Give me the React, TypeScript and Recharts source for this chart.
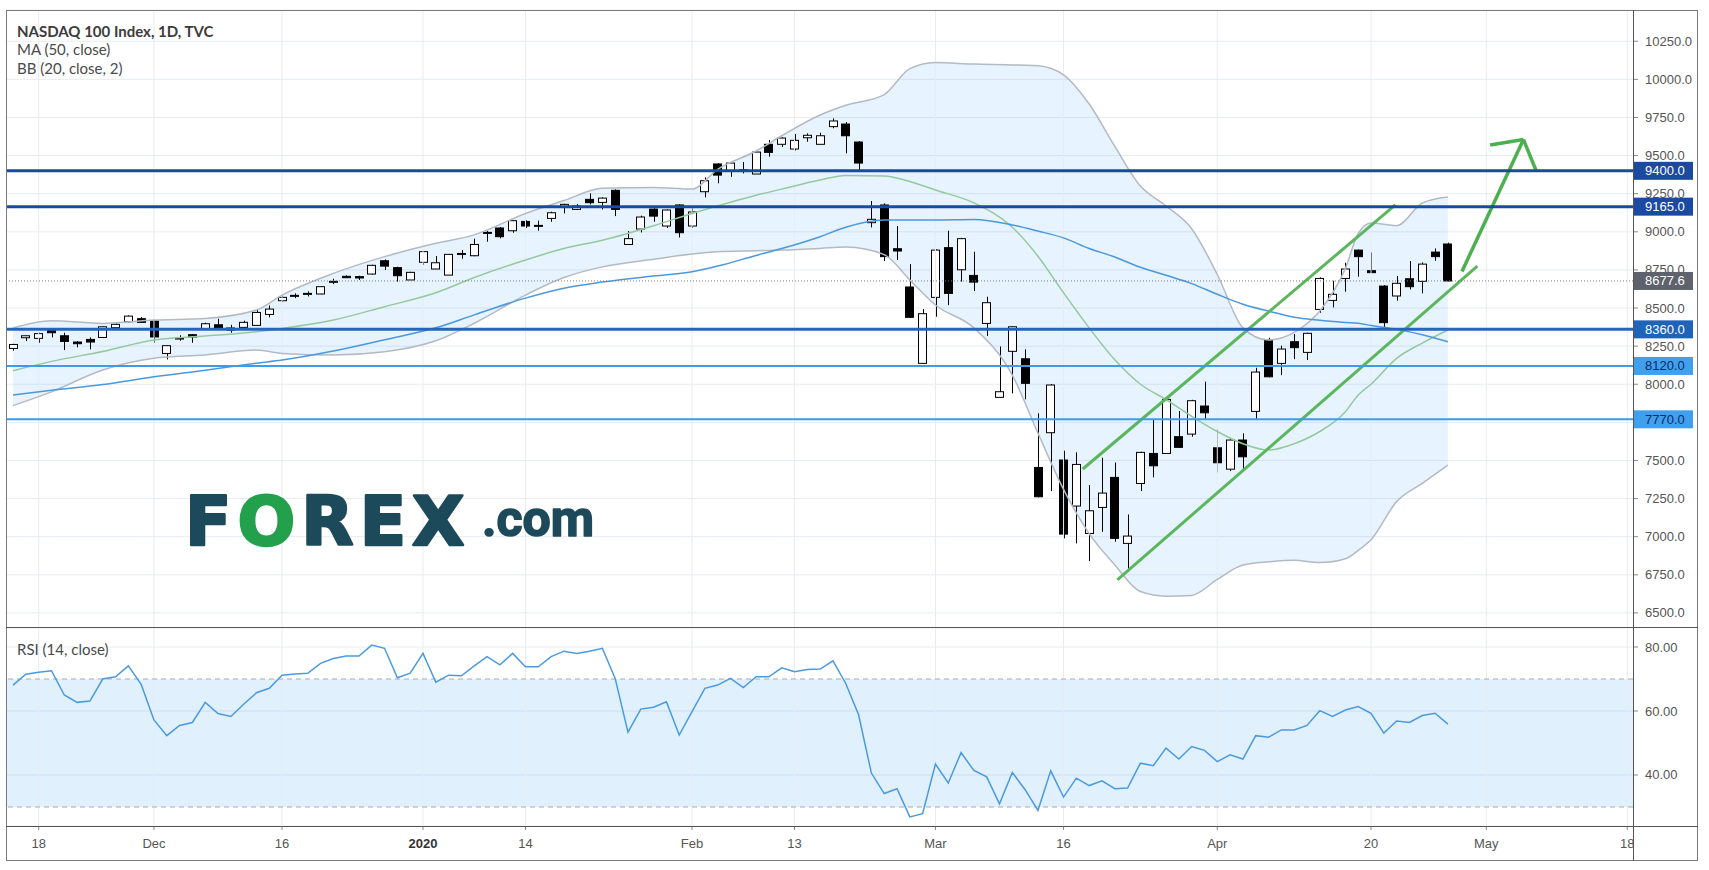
import React from 'react';
import { ComposedChart, Bar, Line, Area, XAxis, YAxis, CartesianGrid, ReferenceLine, ReferenceArea } from 'recharts';

// ---------- categories (trading days) ----------
const dates = [
  "2019-11-14","2019-11-15","2019-11-18","2019-11-19","2019-11-20","2019-11-21","2019-11-22","2019-11-25","2019-11-26","2019-11-27",
  "2019-11-29","2019-12-02","2019-12-03","2019-12-04","2019-12-05","2019-12-06","2019-12-09","2019-12-10","2019-12-11","2019-12-12",
  "2019-12-13","2019-12-16","2019-12-17","2019-12-18","2019-12-19","2019-12-20","2019-12-23","2019-12-24","2019-12-26","2019-12-27",
  "2019-12-30","2019-12-31","2020-01-02","2020-01-03","2020-01-06","2020-01-07","2020-01-08","2020-01-09","2020-01-10","2020-01-13",
  "2020-01-14","2020-01-15","2020-01-16","2020-01-17","2020-01-21","2020-01-22","2020-01-23","2020-01-24","2020-01-27","2020-01-28",
  "2020-01-29","2020-01-30","2020-01-31","2020-02-03","2020-02-04","2020-02-05","2020-02-06","2020-02-07","2020-02-10","2020-02-11",
  "2020-02-12","2020-02-13","2020-02-14","2020-02-18","2020-02-19","2020-02-20","2020-02-21","2020-02-24","2020-02-25","2020-02-26",
  "2020-02-27","2020-02-28","2020-03-02","2020-03-03","2020-03-04","2020-03-05","2020-03-06","2020-03-09","2020-03-10","2020-03-11",
  "2020-03-12","2020-03-13","2020-03-16","2020-03-17","2020-03-18","2020-03-19","2020-03-20","2020-03-23","2020-03-24","2020-03-25",
  "2020-03-26","2020-03-27","2020-03-30","2020-03-31","2020-04-01","2020-04-02","2020-04-03","2020-04-06","2020-04-07","2020-04-08",
  "2020-04-09","2020-04-13","2020-04-14","2020-04-15","2020-04-16","2020-04-17","2020-04-20","2020-04-21","2020-04-22","2020-04-23",
  "2020-04-24","2020-04-27","2020-04-28","2020-04-29","2020-04-30","2020-05-01","2020-05-04","2020-05-05","2020-05-06","2020-05-07",
  "2020-05-08","2020-05-11","2020-05-12","2020-05-13","2020-05-14","2020-05-15","2020-05-18"
];

// ---------- OHLC ----------
const openP = [
  8235,8305,8301,8362,8318,8277,8294,8307,8371,8410,
  8430,8415,8202,8299,8325,8364,8390,8369,8373,8386,
  8458,8548,8579,8590,8592,8670,8708,8706,8723,8810,
  8765,8684,8800,8756,8716,8854,8843,8992,9025,9007,
  9068,9038,9088,9165,9147,9213,9193,9272,8917,9018,
  9149,9038,9176,9038,9263,9445,9401,9403,9379,9574,
  9574,9543,9617,9574,9690,9707,9589,9060,9176,8889,
  8638,8137,8570,8896,8751,8714,8399,7914,8216,8167,
  7454,7682,7503,7201,7021,7192,7389,6956,7349,7546,
  7546,7656,7673,7857,7583,7443,7634,7822,8290,8137,
  8279,8209,8491,8550,8694,8880,8745,8644,8579,8692,
  8675,8867,8920
];
const highP = [
  8265,8320,8338,8364,8338,8283,8307,8377,8399,8452,
  8441,8421,8257,8321,8329,8404,8430,8390,8417,8491,
  8517,8583,8596,8609,8644,8692,8714,8712,8784,8819,
  8771,8738,8874,8841,8854,8880,8955,9007,9031,9077,
  9075,9073,9132,9184,9182,9252,9226,9278,9005,9106,
  9154,9147,9180,9154,9357,9450,9455,9458,9527,9602,
  9619,9641,9646,9650,9744,9720,9594,9202,9187,9038,
  8788,8493,8885,9007,8960,8869,8574,8248,8380,8229,
  7809,8001,7564,7553,7338,7518,7487,7146,7557,7774,
  7907,7824,7898,8017,7706,7638,7678,8108,8305,8253,
  8329,8338,8701,8679,8797,8884,8865,8650,8710,8808,
  8799,8891,8929
];
const lowP = [
  8220,8283,8272,8307,8224,8242,8229,8305,8366,8404,
  8404,8272,8163,8286,8272,8362,8358,8338,8360,8382,
  8439,8541,8565,8576,8590,8657,8697,8684,8719,8749,
  8673,8684,8784,8756,8716,8823,8840,8935,8957,8994,
  9025,9007,9066,9121,9147,9180,9147,9103,8915,8996,
  9066,9025,8963,9025,9226,9318,9361,9383,9379,9493,
  9556,9534,9591,9574,9679,9515,9405,9029,8808,8815,
  8434,8137,8443,8519,8673,8611,8316,7912,7940,7901,
  7258,7299,6989,6956,6840,7032,6967,6770,7299,7389,
  7546,7584,7656,7765,7422,7430,7437,7765,8045,8060,
  8165,8159,8469,8504,8607,8705,8730,8355,8548,8622,
  8596,8810,8675
];
const closeP = [
  8261,8318,8332,8338,8281,8266,8277,8377,8393,8447,
  8406,8310,8253,8303,8310,8397,8360,8355,8406,8471,
  8493,8570,8583,8596,8640,8675,8699,8697,8780,8775,
  8712,8734,8870,8797,8852,8858,8917,8996,8968,9073,
  9038,9042,9125,9180,9169,9191,9221,9147,8955,9097,
  9103,9143,8994,9130,9335,9372,9451,9407,9523,9521,
  9615,9600,9633,9630,9727,9630,9451,9082,8837,8874,
  8439,8463,8880,8596,8955,8670,8535,7951,8377,8006,
  7262,7995,7017,7474,7170,7286,6989,7004,7553,7465,
  7901,7586,7892,7813,7485,7634,7524,8080,8049,8231,
  8240,8334,8694,8590,8756,8837,8732,8404,8662,8640,
  8788,8837,8677.6
];

// ---------- RSI (14, close) ----------
const rsiVals = [
  68.1,71.5,72.1,72.6,65.0,62.7,63.1,70.0,70.7,74.1,
  68.3,57.2,52.3,55.5,56.4,62.7,59.2,58.3,62.1,65.7,
  67.1,71.2,71.6,71.8,74.9,76.4,77.2,77.2,80.6,79.6,
  70.4,71.8,78.0,69.0,71.2,71.0,74.1,77.0,74.4,78.0,
  73.8,73.8,77.0,78.7,78.0,78.7,79.6,70.2,53.4,60.6,
  61.2,62.9,52.5,59.8,67.1,68.1,70.2,67.3,70.7,70.7,
  73.5,72.3,73.0,73.1,75.7,68.6,58.8,40.6,34.2,35.7,
  26.9,27.9,43.4,37.5,47.0,41.4,39.4,31.0,40.8,35.4,
  28.9,41.3,33.1,39.0,36.7,38.2,35.7,35.9,43.7,42.9,
  48.4,45.0,48.9,47.7,44.2,46.3,45.0,52.3,51.8,54.1,
  54.1,55.5,60.1,58.3,60.3,61.4,59.3,53.1,56.9,56.4,
  58.6,59.3,55.9
];

// ---------- Bollinger (20, 2) and MA(50), read at these bars ----------
const bandIdx = [0,3,7,11,15,19,21,25,29,33,36,40,43,46,50,53,55,58,60,63,65,68,70,72,75,78,80,82,84,86,88,90,92,94,96,98,100,102,104,105,106,108,110,112];
const bbUpper = [8369,8417,8399,8421,8432,8487,8585,8727,8837,8925,8980,9120,9205,9285,9291,9280,9410,9530,9630,9766,9830,9900,10070,10110,10100,10095,10090,10030,9838,9560,9300,9170,9020,8720,8370,8290,8340,8480,8760,8990,9058,9040,9189,9228];
const bbBasis = [8089,8150,8215,8290,8316,8345,8366,8421,8509,8600,8700,8815,8890,8945,9040,9120,9170,9240,9280,9340,9370,9366,9330,9274,9190,9030,8840,8600,8370,8160,8000,7900,7790,7690,7610,7568,7610,7690,7820,7930,8000,8170,8270,8356];
const bbLower = [7860,7950,8093,8170,8192,8224,8202,8192,8213,8285,8400,8585,8700,8770,8820,8854,8869,8876,8880,8891,8900,8850,8684,8520,8370,8060,7680,7310,7020,6815,6640,6610,6615,6720,6814,6835,6845,6830,6855,6910,6980,7230,7350,7470];
const ma50 = [7929,7960,7998,8049,8092,8138,8159,8218,8292,8370,8455,8565,8630,8670,8710,8738,8775,8845,8890,8968,9030,9077,9077,9077,9080,9045,9005,8960,8890,8835,8767,8715,8660,8590,8525,8480,8440,8420,8405,8400,8385,8360,8325,8279];

// ---------- axes ----------
const priceTicks = [6500,6750,7000,7250,7500,7750,8000,8250,8500,8750,9000,9250,9500,9750,10000,10250];
const rsiTicks = [40, 60, 80];
const timeTickIdx = [2, 11, 21, 32, 40, 53, 61, 72, 82, 94, 106, 115, 126];
const timeTickLabels = ["18","Dec","16","2020","14","Feb","13","Mar","16","Apr","20","May","18"];

// ---------- drawings ----------
const levels = [9400, 9165, 8360, 8120, 7770];
const lastPrice = 8677.6;
const channelUpper = [{ x: 83.5, y: 7444 }, { x: 107.9, y: 9176 }];
const channelLower = [{ x: 86.2, y: 6716 }, { x: 114.3, y: 8775 }];
const arrowShaft = [{ x: 113.1, y: 8740 }, { x: 117.9, y: 9605 }];
const arrowHeadLeft = [{ x: 115.3, y: 9569 }, { x: 117.9, y: 9605 }];
const arrowHeadRight = [{ x: 117.9, y: 9605 }, { x: 118.9, y: 9399 }];

// ---------- styles ----------
const X_DOMAIN: [number, number] = [-0.55, 126.45];
const PRICE_DOMAIN: [number, number] = [6401, 10455];
const RSI_DOMAIN: [number, number] = [24.06, 85.94];
const levelStyles = [
  { line: '#1a4a9e', w: 3, bg: '#1b4aa0', fg: '#ffffff' },
  { line: '#1a4a9e', w: 3, bg: '#1b4aa0', fg: '#ffffff' },
  { line: '#2466bd', w: 3, bg: '#1f64bb', fg: '#ffffff' },
  { line: '#3d9be9', w: 2, bg: '#40a0ee', fg: '#0d2b5e' },
  { line: '#3d9be9', w: 2, bg: '#40a0ee', fg: '#0d2b5e' },
];
const GRID = '#e8ecf1';
const AXIS_FONT = '"Liberation Sans", Arial, sans-serif';

const mainData = openP.map((o, i) => {
  const k = bandIdx.indexOf(i);
  return {
    i,
    d: dates[i],
    o,
    h: highP[i],
    l: lowP[i],
    c: closeP[i],
    bu: k >= 0 ? bbUpper[k] : null,
    bm: k >= 0 ? bbBasis[k] : null,
    bl: k >= 0 ? bbLower[k] : null,
    ma: k >= 0 ? ma50[k] : null,
  };
});
const rsiData = rsiVals.map((r, i) => ({ i, d: dates[i], r }));

const Candle = (props: any) => {
  const { x, y, width, height, payload } = props;
  if (!payload || payload.o == null || x == null || y == null) return null;
  const { o, c, h, l } = payload;
  const top = Math.min(y, y + height);
  const bot = Math.max(y, y + height);
  const ppu = h > l ? (bot - top) / (h - l) : 0;
  const yOf = (v: number) => top + (h - v) * ppu;
  const cx = Math.round(x + width / 2) + 0.5;
  const bTop = yOf(Math.max(o, c));
  const bBot = yOf(Math.min(o, c));
  const up = c >= o;
  const bx = Math.round(x) + 0.5;
  const bw = Math.round(width) - 1;
  return (
    <g>
      <line x1={cx} x2={cx} y1={top} y2={bot} stroke="#000" strokeWidth={1} />
      <rect x={bx} y={bTop} width={bw} height={Math.max(1, bBot - bTop)} fill={up ? '#ffffff' : '#000000'} stroke="#000" strokeWidth={1} />
    </g>
  );
};

const PriceTick = (props: any) => {
  const { x, y, payload } = props;
  return (
    <text x={x} y={y} dominantBaseline="central" textAnchor="start" fontSize={13} fill="#555" fontFamily={AXIS_FONT}>
      {Number(payload.value).toFixed(1)}
    </text>
  );
};
const RsiTick = (props: any) => {
  const { x, y, payload } = props;
  return (
    <text x={x} y={y} dominantBaseline="central" textAnchor="start" fontSize={13} fill="#555" fontFamily={AXIS_FONT}>
      {Number(payload.value).toFixed(2)}
    </text>
  );
};
const TimeTick = (props: any) => {
  const { x, y, payload } = props;
  const k = timeTickIdx.indexOf(payload.value);
  const label = k >= 0 ? timeTickLabels[k] : '';
  const bold = label === '2020';
  return (
    <text x={x} y={y + 11} dominantBaseline="central" textAnchor="middle" fontSize={13} fill={bold ? '#333' : '#555'} fontWeight={bold ? 'bold' : 'normal'} fontFamily={AXIS_FONT}>
      {label}
    </text>
  );
};

const Tag = (props: any) => {
  const { viewBox, text, bg, fg } = props;
  if (!viewBox) return null;
  const xr = viewBox.x + viewBox.width;
  const yy = viewBox.y;
  return (
    <g>
      <rect x={xr} y={yy - 9} width={60} height={18} fill={bg} />
      <text x={xr + 12} y={yy} dominantBaseline="central" fontSize={13} fill={fg} fontFamily={AXIS_FONT}>{text}</text>
    </g>
  );
};

export default function App() {
  return (
    <div style={{ position: 'absolute', left: 0, top: 0, width: 1709, height: 870, background: '#fff', overflow: 'hidden' }}>
      <div style={{ position: 'absolute', left: 0, top: 0 }}>
        <ComposedChart width={1709} height={628} data={mainData} margin={{ top: 10, right: 0, bottom: 0, left: 6 }}>
          <CartesianGrid vertical={false} stroke={GRID} />
          <XAxis dataKey="i" type="number" domain={X_DOMAIN} hide allowDataOverflow />
          <YAxis orientation="right" type="number" domain={PRICE_DOMAIN} ticks={priceTicks} interval={0} allowDataOverflow width={76}
            axisLine={false} tickLine={{ stroke: '#8a8a8a' }} tickSize={5} tickMargin={7} tick={<PriceTick />} />
          {timeTickIdx.map((t) => (
            <ReferenceLine key={'vg' + t} x={t} stroke={GRID} strokeWidth={1} />
          ))}
          <Area dataKey={(d: any) => (d.bu != null ? [d.bl, d.bu] : null)} type="monotone" connectNulls stroke="none" fill="#2196f3" fillOpacity={0.11} isAnimationActive={false} />
          <Line dataKey="bu" type="monotone" connectNulls dot={false} stroke="#b3bac4" strokeWidth={1.5} isAnimationActive={false} />
          <Line dataKey="bl" type="monotone" connectNulls dot={false} stroke="#b3bac4" strokeWidth={1.5} isAnimationActive={false} />
          <Line dataKey="bm" type="monotone" connectNulls dot={false} stroke="#94c99d" strokeWidth={1.5} isAnimationActive={false} />
          <Line dataKey="ma" type="monotone" connectNulls dot={false} stroke="#4a98de" strokeWidth={1.5} isAnimationActive={false} />
          <Bar dataKey={(d: any) => [d.l, d.h]} barSize={9} shape={(p: any) => <Candle {...p} />} isAnimationActive={false} />
          {levels.map((v, k) => (
            <ReferenceLine key={'lv' + v} y={v} stroke={levelStyles[k].line} strokeWidth={levelStyles[k].w} zIndex={2500}
              label={<Tag text={v.toFixed(1)} bg={levelStyles[k].bg} fg={levelStyles[k].fg} />} />
          ))}
          <ReferenceLine y={lastPrice} stroke="#7d7d7d" strokeDasharray="1 2" strokeWidth={1} zIndex={2500}
            label={<Tag text={lastPrice.toFixed(1)} bg="#5d626d" fg="#ffffff" />} />
          <ReferenceLine segment={channelUpper} stroke="#5cb65e" strokeWidth={3} />
          <ReferenceLine segment={channelLower} stroke="#5cb65e" strokeWidth={3} />
          <ReferenceLine segment={arrowShaft} stroke="#4caf50" strokeWidth={3.5} />
          <ReferenceLine segment={arrowHeadLeft} stroke="#4caf50" strokeWidth={3.5} />
          <ReferenceLine segment={arrowHeadRight} stroke="#4caf50" strokeWidth={3.5} />
        </ComposedChart>
      </div>
      <div style={{ position: 'absolute', left: 0, top: 628 }}>
        <ComposedChart width={1709} height={242} data={rsiData} margin={{ top: 0, right: 0, bottom: 10, left: 6 }}>
          <CartesianGrid vertical={false} stroke={GRID} />
          <XAxis dataKey="i" type="number" domain={X_DOMAIN} allowDataOverflow ticks={timeTickIdx} interval={0} height={34}
            axisLine={false} tickLine={{ stroke: '#888' }} tickSize={4} tickMargin={2} tick={<TimeTick />} />
          <YAxis orientation="right" type="number" domain={RSI_DOMAIN} ticks={rsiTicks} interval={0} allowDataOverflow width={76}
            axisLine={false} tickLine={{ stroke: '#8a8a8a' }} tickSize={5} tickMargin={7} tick={<RsiTick />} />
          {timeTickIdx.map((t) => (
            <ReferenceLine key={'rvg' + t} x={t} stroke={GRID} strokeWidth={1} />
          ))}
          <ReferenceArea y1={30} y2={70} fill="#2196f3" fillOpacity={0.14} stroke="none" />
          <ReferenceLine y={70} stroke="#a6abb3" strokeDasharray="5 4" />
          <ReferenceLine y={30} stroke="#a6abb3" strokeDasharray="5 4" />
          <Line dataKey="r" type="linear" dot={false} stroke="#4b9ae0" strokeWidth={1.5} isAnimationActive={false} />
        </ComposedChart>
      </div>
      <svg width={1709} height={870} style={{ position: 'absolute', left: 0, top: 0, pointerEvents: 'none' }}>
        {/* frame */}
        <rect x={6.5} y={10.5} width={1691} height={850} fill="none" stroke="#7a7a7a" strokeWidth={1} />
        <line x1={1633.5} x2={1633.5} y1={10} y2={861} stroke="#555" strokeWidth={1} />
        <line x1={6} x2={1698} y1={627.5} y2={627.5} stroke="#555" strokeWidth={1} />
        <line x1={6} x2={1698} y1={826.5} y2={826.5} stroke="#555" strokeWidth={1} />
        {/* legend */}
        <text x={17} y={37} fontFamily="Lato, sans-serif" fontSize={15} fontWeight="bold" fill="#3c3c3c">NASDAQ 100 Index, 1D, TVC</text>
        <text x={17} y={55} fontFamily="Lato, sans-serif" fontSize={15} fill="#4a4a4a">MA (50, close)</text>
        <text x={17} y={74} fontFamily="Lato, sans-serif" fontSize={15} fill="#4a4a4a">BB (20, close, 2)</text>
        <text x={17} y={655} fontFamily="Lato, sans-serif" fontSize={15} fill="#4a4a4a">RSI (14, close)</text>
        {/* logo */}
        <text x={185} y={545} fontFamily="'DejaVu Sans', sans-serif" fontWeight="bold" fontSize={68} letterSpacing={6}
          fill="#1d4a5a" stroke="#1d4a5a" strokeWidth={2.5} strokeLinejoin="round">
          F<tspan fill="#23a04c" stroke="#23a04c">O</tspan>REX
        </text>
        <text x={482} y={536} fontFamily="Roboto, sans-serif" fontWeight="bold" fontSize={50}
          fill="#1d4a5a" stroke="#1d4a5a" strokeWidth={1.5} strokeLinejoin="round">.com</text>
      </svg>
    </div>
  );
}
